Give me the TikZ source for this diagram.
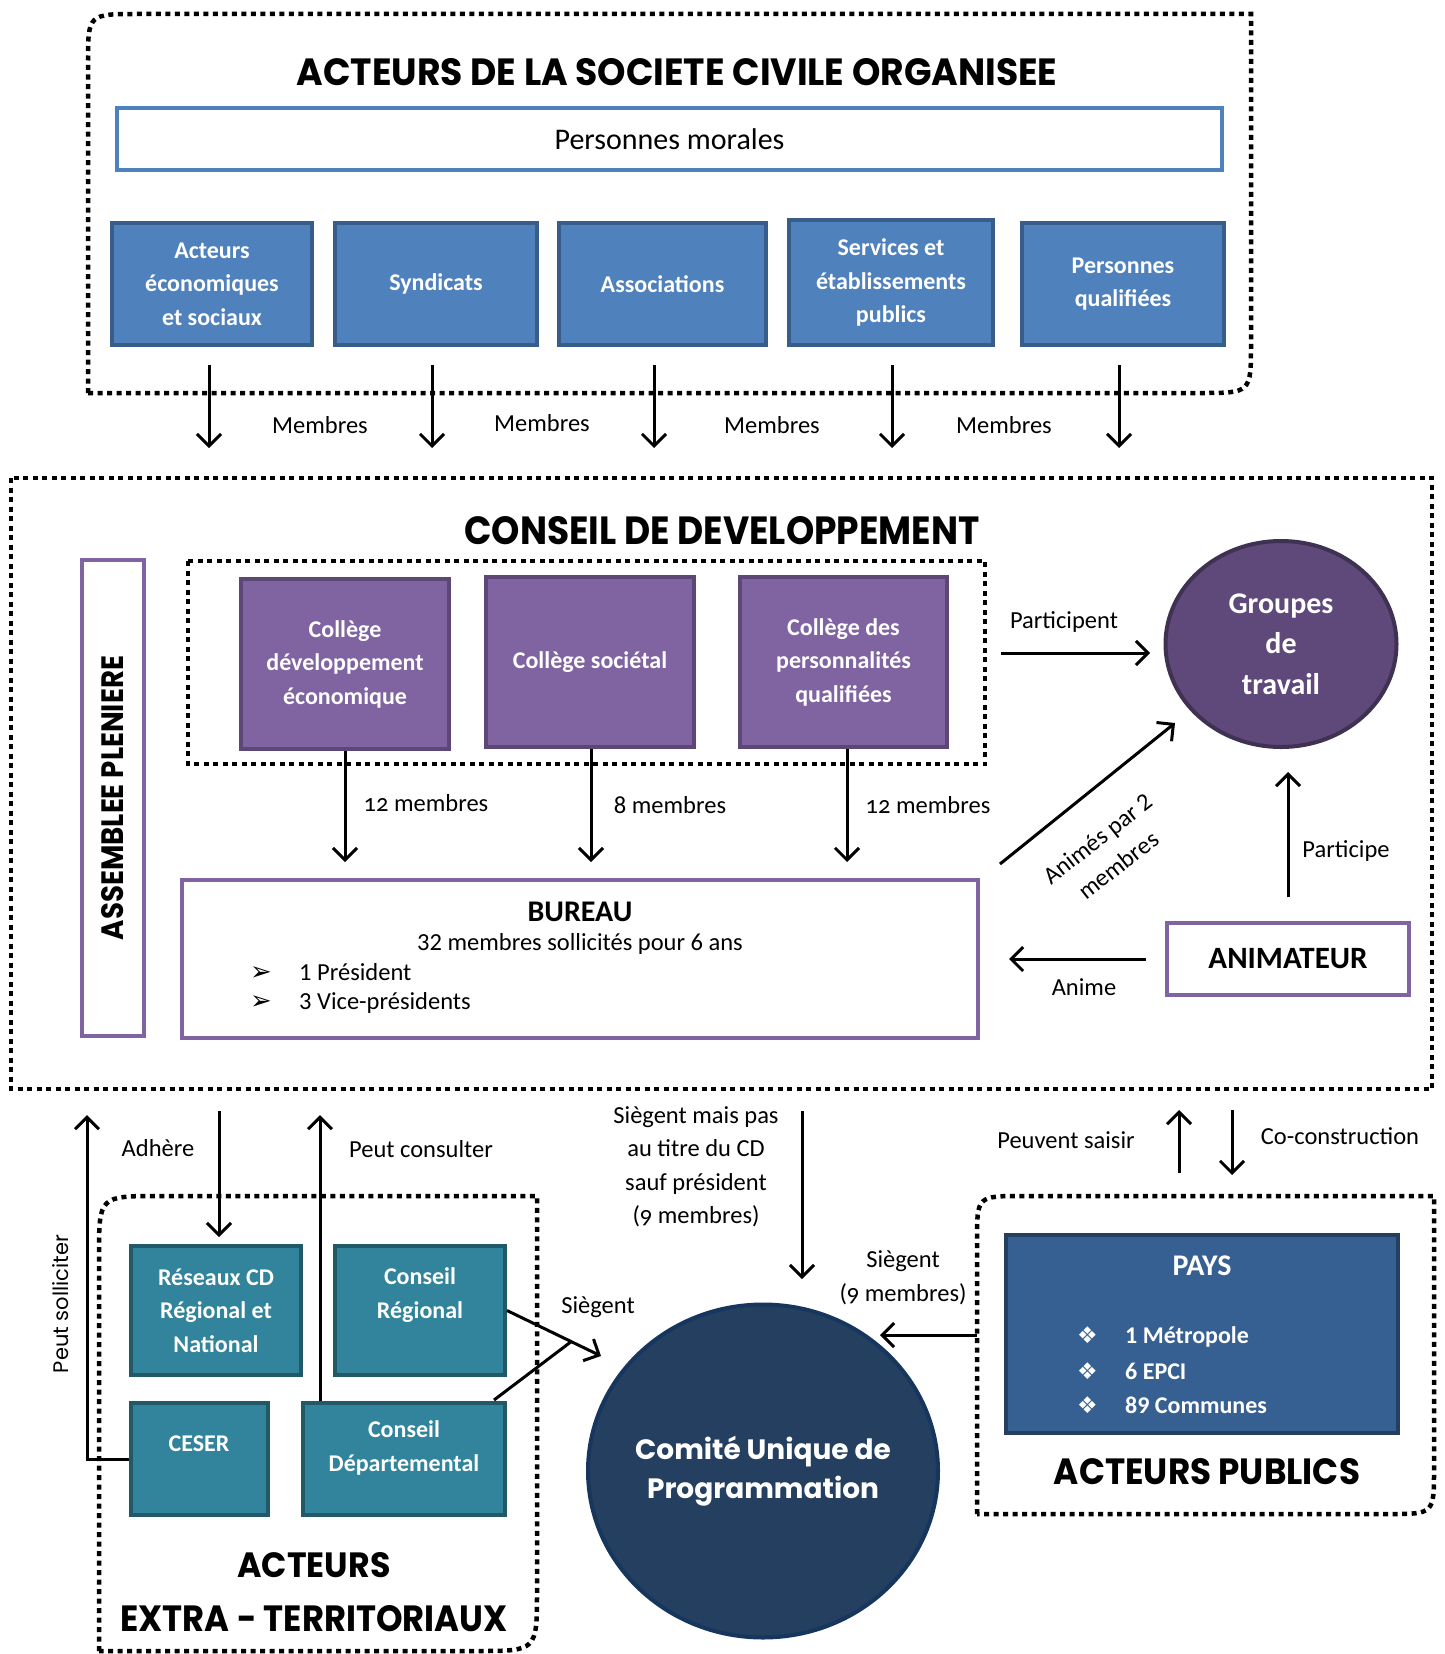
\documentclass[tikz,border=0pt]{standalone}
\usepackage{fontspec}
\usepackage{graphicx}
\setmainfont{Carlito}
\newfontfamily\gothic{Poppins}
\newfontfamily\dejavu{DejaVu Sans}
\usetikzlibrary{arrows.meta,shapes.geometric}
\definecolor{bluefill}{HTML}{4F81BD}
\definecolor{blueline}{HTML}{385D8A}
\definecolor{purpfill}{HTML}{8064A2}
\definecolor{purpline}{HTML}{5C4776}
\definecolor{grpfill}{HTML}{5F497A}
\definecolor{grpline}{HTML}{3F3151}
\definecolor{tealfill}{HTML}{31849B}
\definecolor{tealline}{HTML}{215968}
\definecolor{paysfill}{HTML}{376092}
\definecolor{paysline}{HTML}{243F60}
\definecolor{cupfill}{HTML}{243F60}
\definecolor{cupline}{HTML}{17365D}
\newcommand\fs[2]{\fontsize{#1}{#2}\selectfont}
\newcommand\onum[1]{{\addfontfeatures{Numbers=OldStyle}#1}}
\newcommand\mkbox[7]{\node[#2, minimum width={#5-#3-4}, minimum height={#6-#4-4}] (#1) at ({(#3+#5)/2},{(#4+#6)/2}) {#7};}
\tikzset{
  dotbox/.style={draw=black, line width=4.5pt, dash pattern=on 5pt off 4.5pt},
  arr/.style={draw=black, line width=3pt, -{Straight Barb[length=12pt,width=24pt]}},
  link/.style={draw=black, line width=3pt},
  boxbase/.style={rectangle, line width=4pt, inner sep=0pt, align=center, text=white, font=\fs{24}{33.5}\bfseries},
  bluebox/.style={boxbase, draw=blueline, fill=bluefill},
  purpbox/.style={boxbase, draw=purpline, fill=purpfill},
  tealbox/.style={boxbase, draw=tealline, fill=tealfill},
  paysbox/.style={boxbase, draw=paysline, fill=paysfill},
  boxtext/.style={inner sep=0pt, align=center, text=white, font=\fs{24}{33.5}\bfseries},
  whitebox/.style={rectangle, line width=4pt, inner sep=0pt, fill=white, text=black},
  lbl/.style={inner sep=0pt, align=center, font=\fs{24.5}{33.5}},
  title/.style={inner sep=0pt, font=\gothic\bfseries},
}
\begin{document}
\begin{tikzpicture}[x=1pt,y=-1pt]
\useasboundingbox (0,0) rectangle (1445,1654);

% ---------- top group ----------
\draw[dotbox] (88,393) -- (88,63) .. controls (88,14) .. (138,14) -- (1251,14) -- (1251,343) .. controls (1251,393) .. (1201,393) -- cycle;
\node[title] (t1) at (677,72) {\resizebox{761pt}{27pt}{ACTEURS DE LA SOCIETE CIVILE ORGANISEE}};
\mkbox{pm}{whitebox, draw=bluefill, font=\fs{30}{36}}{115}{106}{1224}{172}{Personnes morales}
\mkbox{b1}{bluebox}{110}{221}{314}{347}{Acteurs\\économiques\\et sociaux}
\mkbox{b2}{bluebox}{333}{221}{539}{347}{Syndicats}
\mkbox{b3}{bluebox}{557}{221}{768}{347}{Associations}
\mkbox{b4}{bluebox}{787}{218}{995}{347}{Services et\\établissements\\publics}
\mkbox{b5}{bluebox}{1020}{221}{1226}{347}{Personnes\\qualifiées}

\coordinate (m1) at (209,448);
\coordinate (m2) at (432,448);
\coordinate (m3) at (654,448);
\coordinate (m4) at (892,448);
\coordinate (m5) at (1119,448);
\foreach \i in {1,...,5}{\draw[arr, shorten <=18pt] (m\i |- b\i.south) -- (m\i);}
\node[lbl] (ml1) at (320,425) {Membres};
\node[lbl] (ml2) at (542,423) {Membres};
\node[lbl] (ml3) at (772,425) {Membres};
\node[lbl] (ml4) at (1004,425) {Membres};

% ---------- conseil ----------
\draw[dotbox] (11,478) rectangle (1432,1089);
\node[title] (t2) at (722,531) {\resizebox{515pt}{28pt}{CONSEIL DE DEVELOPPEMENT}};
\node[whitebox, draw=purpfill, rotate=90, minimum width=476, minimum height=62, font=\gothic\bfseries] (ap) at (113,798) {\resizebox{284pt}{22pt}{ASSEMBLEE PLENIERE}};
\draw[dotbox] (188,561) rectangle (985,764);
\mkbox{c1}{purpbox}{239}{577}{451}{751}{Collège\\développement\\économique}
\mkbox{c2}{purpbox}{484}{575}{696}{749}{Collège sociétal}
\mkbox{c3}{purpbox}{738}{575}{949}{749}{Collège des\\personnalités\\qualifiées}
\mkbox{bu}{whitebox, draw=purpfill}{180}{878}{980}{1040}{}
\coordinate (k1) at (345,862);
\coordinate (k2) at (591,862);
\coordinate (k3) at (847,862);
\foreach \i in {1,2,3}{\draw[arr] (k\i |- c\i.south) -- (k\i);}
\node[lbl] (kl1) at (426,803) {\onum{12} membres};
\node[lbl] (kl2) at (670,805) {8 membres};
\node[lbl] (kl3) at (928,805) {\onum{12} membres};

\node[inner sep=0pt, font=\fs{30}{36}\bfseries] (but) at (580,912) {BUREAU};
\node[lbl] (bus) at (580,944) {32 membres sollicités pour 6 ans};
\node[lbl, anchor=west] (bl1) at (250,972) {\makebox[49pt][l]{\dejavu\fs{26}{26}➢}1 Président};
\node[lbl, anchor=west] (bl2) at (250,1003) {\makebox[49pt][l]{\dejavu\fs{26}{26}➢}3 Vice-présidents};

\node[ellipse, draw=grpline, fill=grpfill, line width=4pt, minimum width=231, minimum height=206, inner sep=0pt, text=white, font=\fs{30}{40.5}\bfseries, align=center] (grp) at (1281,644) {Groupes\\de\\travail};
\mkbox{anim}{whitebox, draw=purpfill, font=\fs{31}{36}\bfseries}{1165}{921}{1411}{997}{ANIMATEUR}

\coordinate (pa) at (1001,653);
\draw[arr, shorten >=13.5pt] (pa) -- (pa -| grp.west);
\node[lbl] (pat) at (1064,622) {Participent};
\coordinate (an1) at (1000,864);
\coordinate (an2) at (1175,723);
\draw[arr] (an1) -- (an2);
\node[lbl, rotate=38] (ant) at (1108,852) {Animés par 2\\membres};
\draw[arr, shorten <=24pt, shorten >=23pt] (anim.north) -- (anim.north |- grp.south);
\node[lbl] (pet) at (1346,851) {Participe};
\draw[arr, shorten <=19pt, shorten >=29pt] (anim.west) -- (anim.west -| bu.east);
\node[lbl] (aniT) at (1084,987) {Anime};

% ---------- extra-territoriaux ----------
\draw[dotbox] (99,1651) -- (99,1256) .. controls (99,1196) .. (159,1196) -- (537,1196) -- (537,1591) .. controls (537,1651) .. (477,1651) -- cycle;
\mkbox{rcd}{tealbox}{129}{1244}{303}{1377}{Réseaux CD\\Régional et\\National}
\mkbox{cr}{tealbox}{333}{1244}{507}{1377}{}
\mkbox{ceser}{tealbox}{129}{1401}{270}{1517}{}
\mkbox{cd}{tealbox}{301}{1401}{507}{1517}{}
\node[boxtext] (crt) at (420,1295) {Conseil\\Régional};
\node[boxtext] (cesert) at (199,1444) {CESER};
\node[boxtext] (cdt) at (404,1448) {Conseil\\Départemental};
\node[title] (t3) at (314,1565) {\resizebox{153pt}{25pt}{ACTEURS}};
\node[title] (t4) at (314,1619) {\resizebox{387pt}{26pt}{EXTRA - TERRITORIAUX}};

\coordinate (ps) at (87,1115);
\draw[arr] (ceser.west) -| (ps);
\node[inner sep=0pt, font=\gothic\fs{21}{24}, rotate=90] (pst) at (61,1304) {Peut solliciter};
\coordinate (ad) at (219,1111);
\draw[arr, shorten >=7pt] (ad) -- (ad |- rcd.north);
\node[lbl] (adt) at (158,1148) {Adhère};
\coordinate (pc) at (320,1115);
\draw[arr] (pc |- cd.north) -- (pc);
\node[lbl] (pct) at (421,1149) {Peut consulter};

\coordinate (sgt) at (601,1356);
\coordinate (sgj) at (572,1341);
\coordinate (cds) at (494,1400);
\draw[arr] (cr.east) -- (sgt);
\draw[link] (cds) -- (sgj);
\node[lbl] (sgl) at (598,1307) {Siègent};

% ---------- comite ----------
\node[ellipse, draw=cupline, fill=cupfill, line width=4pt, minimum width=350, minimum height=333, inner sep=0pt] (cup) at (763,1471) {};
\node[inner sep=0pt, text=white, font=\gothic\bfseries\fs{28}{39}, align=center] (cupt) at (763,1471) {Comité Unique de\\Programmation};
\node[lbl] (smt) at (696,1167) {Siègent mais pas\\au titre du CD\\sauf président\\(\onum{9} membres)};
\coordinate (sm1) at (802,1111);
\coordinate (sm2) at (802,1279);
\draw[arr] (sm1) -- (sm2);

% ---------- acteurs publics ----------
\draw[dotbox] (977,1514) -- (977,1241) .. controls (977,1196) .. (1022,1196) -- (1434,1196) -- (1434,1469) .. controls (1434,1514) .. (1389,1514) -- cycle;
\mkbox{pays}{paysbox}{1004}{1233}{1400}{1435}{}
\node[inner sep=0pt, text=white, font=\fs{30}{36}\bfseries] (payst) at (1202,1266) {PAYS};
\node[boxtext, anchor=west] (p1) at (1077,1337) {\makebox[48pt][l]{\dejavu\fs{23}{24}❖}1 Métropole};
\node[boxtext, anchor=west] (p2) at (1077,1371) {\makebox[48pt][l]{\dejavu\fs{23}{24}❖}6 EPCI};
\node[boxtext, anchor=west] (p3) at (1077,1405) {\makebox[48pt][l]{\dejavu\fs{23}{24}❖}89 Communes};
\node[title] (t5) at (1207,1472) {\resizebox{306pt}{26pt}{ACTEURS PUBLICS}};

\coordinate (s9a) at (977,1335);
\coordinate (s9b) at (880,1335);
\draw[arr] (s9a) -- (s9b);
\node[lbl] (s9t) at (903,1278) {Siègent\\(\onum{9} membres)};

\coordinate (psa) at (1179,1173);
\coordinate (psb) at (1179,1110);
\draw[arr] (psa) -- (psb);
\node[lbl] (pst2) at (1066,1140) {Peuvent saisir};
\coordinate (cca) at (1232,1110);
\coordinate (ccb) at (1232,1175);
\draw[arr] (cca) -- (ccb);
\node[lbl] (cct) at (1340,1136) {Co-construction};
\end{tikzpicture}
\end{document}
